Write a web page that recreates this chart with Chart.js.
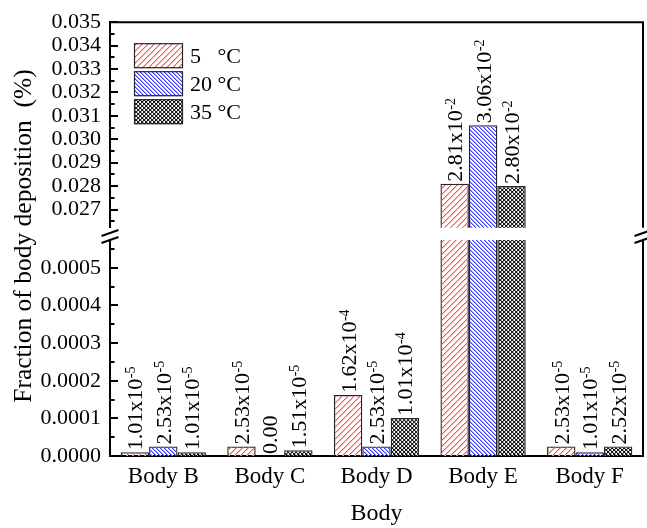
<!DOCTYPE html>
<html>
<head>
<meta charset="utf-8">
<script src="https://cdn.jsdelivr.net/npm/chart.js@4"></script>
<style>
  html, body { margin: 0; padding: 0; background: #fff; }
  #wrap { position: relative; width: 647px; height: 528px; overflow: hidden; }
  #wrap canvas { position: absolute; left: 0; top: 0; }
</style>
</head>
<body>
<div id="wrap">
  <canvas id="lower" width="647" height="528"></canvas>
  <canvas id="upper" width="647" height="250"></canvas>
</div>
<script>
// ---- data ----
const categories = ['Body B', 'Body C', 'Body D', 'Body E', 'Body F'];
const seriesLabels = ['5   \u00B0C', '20 \u00B0C', '35 \u00B0C'];
const values5C  = [1.01e-5, 2.53e-5, 1.62e-4, 2.81e-2, 2.53e-5];
const values20C = [2.53e-5, 0,       2.53e-5, 3.06e-2, 1.01e-5];
const values35C = [1.01e-5, 1.51e-5, 1.01e-4, 2.80e-2, 2.52e-5];

// broken value axis: a low segment and a high segment
const lowerRange = [0, 0.000574];
const upperRange = [0.02622, 0.035];
const lowerMajorTicks = [0, 0.0001, 0.0002, 0.0003, 0.0004, 0.0005];
const lowerMinorTicks = [0.00005, 0.00015, 0.00025, 0.00035, 0.00045, 0.00055];
const upperMajorTicks = [0.027, 0.028, 0.029, 0.030, 0.031, 0.032, 0.033, 0.034, 0.035];
const upperMinorTicks = [0.0265, 0.0275, 0.0285, 0.0295, 0.0305, 0.0315, 0.0325, 0.0335, 0.0345];

const yTitle = 'Fraction of body deposition  (%)';
const xTitle = 'Body';

const FONT = '"Liberation Serif", "Times New Roman", serif';
Chart.defaults.font.family = FONT;
Chart.defaults.color = '#000';

// ---- hatch fills, drawn pixel by pixel so the line colour stays crisp ----
function hatch(ctx, dirs, rgb, side, size) {
  const c = document.createElement('canvas');
  c.width = c.height = size;
  const g = c.getContext('2d');
  const img = g.createImageData(size, size);
  const put = (x, y, col) => {
    x = ((x % size) + size) % size; y = ((y % size) + size) % size;
    const k = (y * size + x) * 4;
    if (img.data[k + 3] === 255 && col === side) return;
    img.data[k] = col[0]; img.data[k + 1] = col[1]; img.data[k + 2] = col[2];
    img.data[k + 3] = 255;
  };
  for (let i = 0; i < size; i++) {
    if (dirs.includes('/'))  { put(i + 1, size - 1 - i, side); }
    if (dirs.includes('\\')) { put(i + 1, i, side); }
  }
  for (let i = 0; i < size; i++) {
    if (dirs.includes('/'))  { put(i, size - 1 - i, rgb); }
    if (dirs.includes('\\')) { put(i, i, rgb); }
  }
  g.putImageData(img, 0, 0);
  return ctx.createPattern(c, 'repeat');
}

function buildDatasets(ctx) {
  const fills = [
    hatch(ctx, '/',   [255, 80, 80],  [255, 180, 180], 6),
    hatch(ctx, '\\',  [60, 60, 255],  [165, 165, 255], 4),
    hatch(ctx, '/\\', [25, 25, 25],   [175, 175, 175], 4)
  ];
  return [values5C, values20C, values35C].map((vals, i) => ({
    label: seriesLabels[i],
    data: vals,
    backgroundColor: fills[i],
    borderColor: '#262626',
    borderWidth: 1.3,
    clip: 0,
    categoryPercentage: 0.8,
    barPercentage: 1.0
  }));
}

// ---- value labels: mantissa x10 with superscript exponent ----
function splitSci(v) {
  if (v === 0) return ['0.00', ''];
  const e = Math.floor(Math.log10(v) + 1e-9);
  const m = v / Math.pow(10, e);
  return [m.toFixed(2) + 'x10', String(e)];
}

const valueLabels = {
  id: 'valueLabels',
  afterDatasetsDraw(chart, args, opts) {
    const { ctx } = chart;
    const [lo, hi] = opts.range;
    chart.data.datasets.forEach((ds, di) => {
      const meta = chart.getDatasetMeta(di);
      meta.data.forEach((bar, i) => {
        const v = ds.data[i];
        if (v < lo || v > hi) return;
        const [main, exp] = splitSci(v);
        ctx.save();
        ctx.translate(bar.x, bar.y - 2);
        ctx.rotate(-Math.PI / 2);
        ctx.fillStyle = '#000';
        ctx.textAlign = 'left';
        ctx.textBaseline = 'alphabetic';
        ctx.font = '22px ' + FONT;
        ctx.fillText(main, 0, 7.5);
        if (exp) {
          const w = ctx.measureText(main).width;
          ctx.font = '14px ' + FONT;
          ctx.fillText(exp, w + 0.5, 0.5);
        }
        ctx.restore();
      });
    });
  }
};

// ---- frame: top/right edges and inward tick marks ----
const frame = {
  id: 'frame',
  afterDraw(chart, args, o) {
    const { ctx, chartArea: { left, right, top, bottom } } = chart;
    const y = chart.scales.y;
    ctx.save();
    ctx.strokeStyle = '#000';
    ctx.lineWidth = 2;
    ctx.beginPath();
    if (o.topEdge) {
      ctx.moveTo(left - 1, top); ctx.lineTo(right + 1, top);
    }
    ctx.moveTo(right, top); ctx.lineTo(right, bottom);
    ctx.stroke();
    ctx.beginPath();
    o.major.forEach(v => {
      const p = Math.round(y.getPixelForValue(v));
      ctx.moveTo(left, p); ctx.lineTo(left + 8, p);
    });
    o.minor.forEach(v => {
      const p = Math.round(y.getPixelForValue(v));
      ctx.moveTo(left, p); ctx.lineTo(left + 4.5, p);
    });
    ctx.stroke();
    ctx.restore();
  }
};

// ---- axis break marks and shared value-axis title ----
const breakAndTitle = {
  id: 'breakAndTitle',
  afterDraw(chart, args, o) {
    const { ctx, chartArea: { left, right, top } } = chart;
    ctx.save();
    ctx.strokeStyle = '#000';
    ctx.lineWidth = 2;
    ctx.beginPath();
    [left, right].forEach(x => {
      [top - 7, top].forEach(yc => {
        ctx.moveTo(x - 8.5, yc + 3); ctx.lineTo(x + 8.5, yc - 3);
      });
    });
    ctx.stroke();
    ctx.translate(o.titleX, o.titleY);
    ctx.rotate(-Math.PI / 2);
    ctx.fillStyle = '#000';
    ctx.textAlign = 'center';
    ctx.textBaseline = 'middle';
    ctx.font = '25.5px ' + FONT;
    ctx.fillText(yTitle, 0, 0);
    ctx.restore();
  }
};

// ---- legend inside the plot ----
const boxLegend = {
  id: 'boxLegend',
  afterDraw(chart) {
    const { ctx, chartArea: { left, top } } = chart;
    ctx.save();
    chart.data.datasets.forEach((ds, i) => {
      const x = left + 24, y = top + 21 + i * 28;
      ctx.fillStyle = '#fff';
      ctx.fillRect(x, y, 49, 25);
      ctx.fillStyle = ds.backgroundColor;
      ctx.fillRect(x, y, 49, 25);
      ctx.strokeStyle = '#262626';
      ctx.lineWidth = 1.2;
      ctx.strokeRect(x + 0.5, y + 0.5, 48, 24);
      ctx.fillStyle = '#000';
      ctx.font = '22px ' + FONT;
      ctx.textAlign = 'left';
      ctx.textBaseline = 'middle';
      ctx.fillText(ds.label, x + 56, y + 14);
    });
    ctx.restore();
  }
};

const axisLine = { display: true, color: '#000', width: 2 };

// lower segment with the category axis
const lowerCtx = document.getElementById('lower').getContext('2d');
new Chart(lowerCtx, {
  type: 'bar',
  data: { labels: categories, datasets: buildDatasets(lowerCtx) },
  options: {
    responsive: false,
    animation: false,
    devicePixelRatio: 1,
    layout: { padding: { top: 240, right: 4, bottom: 0, left: 0 } },
    plugins: {
      legend: { display: false },
      tooltip: { enabled: false },
      valueLabels: { range: lowerRange },
      frame: { topEdge: false, major: lowerMajorTicks, minor: lowerMinorTicks },
      breakAndTitle: { titleX: 24, titleY: 236 }
    },
    scales: {
      x: {
        grid: { display: false, drawTicks: false },
        border: axisLine,
        ticks: { font: { size: 23 }, color: '#000', padding: 7, maxRotation: 0, autoSkip: false },
        title: { display: true, text: xTitle, font: { size: 24 }, color: '#000', padding: 0 },
        afterFit(s) { s.height = 72; }
      },
      y: {
        min: lowerRange[0],
        max: lowerRange[1],
        grid: { display: false, drawTicks: false },
        border: axisLine,
        ticks: { font: { size: 22 }, color: '#000', padding: 9, autoSkip: false,
                 callback: v => Number(v).toFixed(4) },
        afterBuildTicks(s) { s.ticks = lowerMajorTicks.map(v => ({ value: v })); },
        afterFit(s) { s.width = 110; }
      }
    }
  },
  plugins: [valueLabels, frame, breakAndTitle]
});

// upper segment
const upperCtx = document.getElementById('upper').getContext('2d');
new Chart(upperCtx, {
  type: 'bar',
  data: { labels: categories, datasets: buildDatasets(upperCtx) },
  options: {
    responsive: false,
    animation: false,
    devicePixelRatio: 1,
    layout: { padding: { top: 16, right: 4, bottom: 17, left: 0 } },
    plugins: {
      legend: { display: false },
      tooltip: { enabled: false },
      valueLabels: { range: upperRange },
      frame: { topEdge: true, major: upperMajorTicks, minor: upperMinorTicks }
    },
    scales: {
      x: { display: false },
      y: {
        min: upperRange[0],
        max: upperRange[1],
        grid: { display: false, drawTicks: false },
        border: axisLine,
        ticks: { font: { size: 22 }, color: '#000', padding: 9, autoSkip: false,
                 callback: v => Number(v).toFixed(3) },
        afterBuildTicks(s) { s.ticks = upperMajorTicks.map(v => ({ value: v })); },
        afterFit(s) { s.width = 110; }
      }
    }
  },
  plugins: [valueLabels, frame, boxLegend]
});
</script>
</body>
</html>
